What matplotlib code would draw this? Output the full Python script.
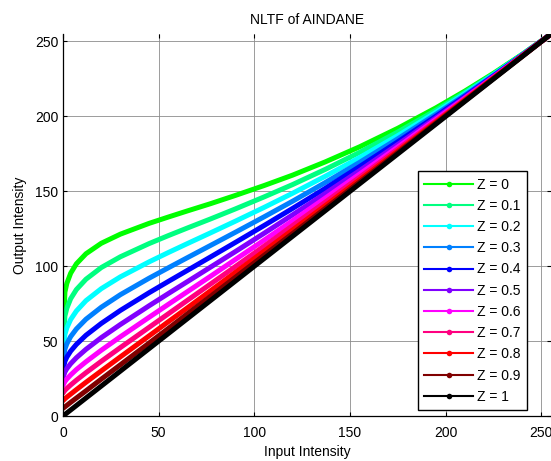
import matplotlib
matplotlib.use("Agg")
import matplotlib.pyplot as plt
from matplotlib.lines import Line2D

plt.rcParams['font.family'] = ['Liberation Sans', 'DejaVu Sans']
plt.rcParams['font.size'] = 10

# input intensity sample positions
x = [0, 1, 2, 4, 7, 12, 20, 30, 45, 55, 65, 77, 90, 105, 120, 137, 155, 175, 195, 210, 225, 240, 255]

# output intensity for each Z
z0 = [51.0, 82.7, 88.5, 95.3, 101.6, 108.3, 115.3, 121.4, 128.6, 132.8, 136.9, 141.7,
      147.2, 153.8, 160.8, 169.6, 179.7, 192.1, 205.8, 216.9, 228.8, 241.5, 255]
z01 = [45.9, 66.8, 71.9, 78.3, 84.4, 91.3, 99.1, 106.3, 115.1, 120.4, 125.5, 131.5,
       138.2, 146.2, 154.5, 164.6, 176.0, 189.6, 204.2, 216.0, 228.3, 241.3, 255]
z02 = [40.8, 54.5, 58.8, 64.4, 70.1, 77.0, 85.0, 92.9, 102.9, 109.1, 115.1, 122.2,
       130.0, 139.2, 148.7, 160.0, 172.5, 187.2, 202.8, 215.1, 227.9, 241.2, 255]
z03 = [35.7, 44.7, 48.2, 53.0, 58.1, 64.6, 72.6, 81.0, 92.0, 98.9, 105.7, 113.8,
       122.6, 132.9, 143.4, 155.8, 169.3, 185.1, 201.5, 214.2, 227.4, 241.0, 255]
z04 = [30.6, 36.5, 39.3, 43.3, 47.8, 53.9, 61.8, 70.5, 82.3, 89.8, 97.2, 106.1,
       115.8, 127.1, 138.6, 151.9, 166.5, 183.1, 200.2, 213.4, 227.0, 240.8, 255]
z05 = [25.5, 29.4, 31.6, 34.9, 38.9, 44.5, 52.3, 61.1, 73.6, 81.7, 89.7, 99.3,
       109.7, 121.9, 134.3, 148.5, 163.8, 181.3, 199.1, 212.7, 226.6, 240.7, 255]
z06 = [20.4, 23.0, 24.7, 27.4, 31.0, 36.2, 43.9, 52.9, 65.9, 74.5, 83.0, 93.2,
       104.4, 117.3, 130.4, 145.4, 161.5, 179.6, 198.1, 212.1, 226.2, 240.5, 255]
z07 = [15.3, 17.1, 18.4, 20.7, 23.9, 28.9, 36.5, 45.7, 59.2, 68.2, 77.2, 88.0,
       99.7, 113.3, 127.1, 142.7, 159.4, 178.2, 197.1, 211.5, 225.9, 240.4, 255]
z08 = [10.2, 11.5, 12.6, 14.6, 17.6, 22.5, 30.1, 39.5, 53.5, 62.9, 72.2, 83.5,
       95.8, 109.9, 124.2, 140.4, 157.7, 176.9, 196.3, 210.9, 225.6, 240.3, 255]
z09 = [5.1, 6.1, 7.1, 9.1, 12.0, 16.8, 24.6, 34.2, 48.7, 58.4, 68.2, 79.8,
       92.5, 107.2, 121.8, 138.5, 156.2, 175.9, 195.6, 210.4, 225.3, 240.1, 255]
z1 = [0, 1, 2, 4, 7, 12, 20, 30, 45, 55, 65, 77,
      90, 105, 120, 137, 155, 175, 195, 210, 225, 240, 255]

series = [z0, z01, z02, z03, z04, z05, z06, z07, z08, z09, z1]
labels = ['Z = 0', 'Z = 0.1', 'Z = 0.2', 'Z = 0.3', 'Z = 0.4', 'Z = 0.5',
          'Z = 0.6', 'Z = 0.7', 'Z = 0.8', 'Z = 0.9', 'Z = 1']
colors = ['#00ff00', '#00ff80', '#00ffff', '#0080ff', '#0000ff', '#8000ff',
          '#ff00ff', '#ff0080', '#ff0000', '#800000', '#000000']

fig = plt.figure(figsize=(5.51, 4.61), dpi=100)
ax = fig.add_axes([63 / 551, 1 - 416 / 461, 488 / 551, 382 / 461])

handles = []
for y, lab, col in zip(series, labels, colors):
    # dense dots in the original read as a thick band
    ax.plot(x, y, color=col, lw=3.6, solid_capstyle='round', solid_joinstyle='round')
    handles.append(Line2D([], [], color=col, lw=1.5, marker='o', ms=4, mew=0))

ax.set_xlim(0, 255)
ax.set_ylim(0, 255)
ax.set_xticks([0, 50, 100, 150, 200, 250])
ax.set_yticks([0, 50, 100, 150, 200, 250])
ax.grid(True, color='#8c8c8c', linestyle='-', lw=0.6)
ax.set_axisbelow(True)
ax.tick_params(direction='in', length=3, top=True, right=True, width=0.8)
ax.tick_params(axis='x', pad=7)
for side in ['top', 'right']:
    ax.spines[side].set_visible(False)
for side in ['left', 'bottom']:
    ax.spines[side].set_linewidth(0.9)

ax.set_title('NLTF of AINDANE', fontsize=10, pad=7)
ax.set_xlabel('Input Intensity', labelpad=4)
ax.set_ylabel('Output Intensity', labelpad=5.5)

leg = ax.legend(handles, labels, loc='lower right', bbox_to_anchor=(0.951, 0.0157),
                borderaxespad=0, fancybox=False, framealpha=1, edgecolor='black',
                handlelength=3.5, handletextpad=0.3, labelspacing=0.52, borderpad=0.45)
leg.get_frame().set_linewidth(1.0)

fig.savefig('out.png', dpi=100)
